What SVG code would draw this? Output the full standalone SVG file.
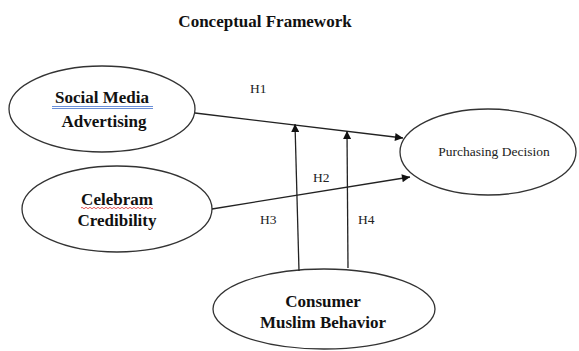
<svg xmlns="http://www.w3.org/2000/svg" width="579" height="351" viewBox="0 0 579 351">
<style>
.node{fill:#fff;stroke:#333;stroke-width:1.3}
.b{font-family:"Liberation Serif","DejaVu Serif",serif;font-weight:bold;font-size:17px;fill:#111;text-anchor:middle}
.r{font-family:"Liberation Serif","DejaVu Serif",serif;font-size:13.5px;fill:#222}
.c{stroke:#222;stroke-width:1.3;fill:none}
</style>
<defs>
<marker id="ah" viewBox="0 0 10 10" refX="10" refY="5" markerWidth="9" markerHeight="8" markerUnits="userSpaceOnUse" orient="auto">
<path d="M0,0 L10,5 L0,10 z" fill="#111"/>
</marker>
</defs>
<rect width="579" height="351" fill="#fff"/>
<text x="265" y="27" class="b" font-size="16.3">Conceptual Framework</text>
<g id="social">
<ellipse class="node" cx="102" cy="109" rx="93" ry="43"/>
<text x="102" y="103" class="b">Social  Media</text>
<line x1="52" y1="106.5" x2="153" y2="106.5" stroke="#6a8fd8" stroke-width="1"/>
<line x1="52" y1="108.5" x2="153" y2="108.5" stroke="#6a8fd8" stroke-width="1"/>
<text x="104" y="127" class="b">Advertising</text>
</g>
<g id="celebram">
<ellipse class="node" cx="117" cy="209" rx="95" ry="43"/>
<text x="117" y="205" class="b">Celebram</text>
<path d="M81,208 q1,-1.5 2,0 t2,0 t2,0 t2,0 t2,0 t2,0 t2,0 t2,0 t2,0 t2,0 t2,0 t2,0 t2,0 t2,0 t2,0 t2,0 t2,0 t2,0 t2,0 t2,0 t2,0 t2,0 t2,0 t2,0 t2,0 t2,0 t2,0 t2,0 t2,0 t2,0 t2,0 t2,0 t2,0 t2,0 t2,0 t2,0" fill="none" stroke="#d33" stroke-width="0.8"/>
<text x="117" y="226" class="b">Credibility</text>
</g>
<g id="purchasing">
<ellipse class="node" cx="488" cy="152" rx="88" ry="43"/>
<text x="494" y="156" class="r" text-anchor="middle">Purchasing Decision</text>
</g>
<g id="consumer">
<ellipse class="node" cx="324" cy="309" rx="111" ry="40"/>
<text x="323" y="307" class="b">Consumer</text>
<text x="323" y="328" class="b">Muslim Behavior</text>
</g>
<g id="connectors">
<line class="c" x1="195" y1="113" x2="403" y2="138" marker-end="url(#ah)"/>
<line class="c" x1="212" y1="209" x2="410" y2="177" marker-end="url(#ah)"/>
<line class="c" x1="299" y1="271" x2="295" y2="124" marker-end="url(#ah)"/>
<line class="c" x1="348" y1="268" x2="347" y2="131" marker-end="url(#ah)"/>
</g>
<g id="labels">
<text x="250" y="93" class="r">H1</text>
<text x="313" y="182" class="r">H2</text>
<text x="260" y="224" class="r">H3</text>
<text x="358" y="224" class="r">H4</text>
</g>
</svg>
